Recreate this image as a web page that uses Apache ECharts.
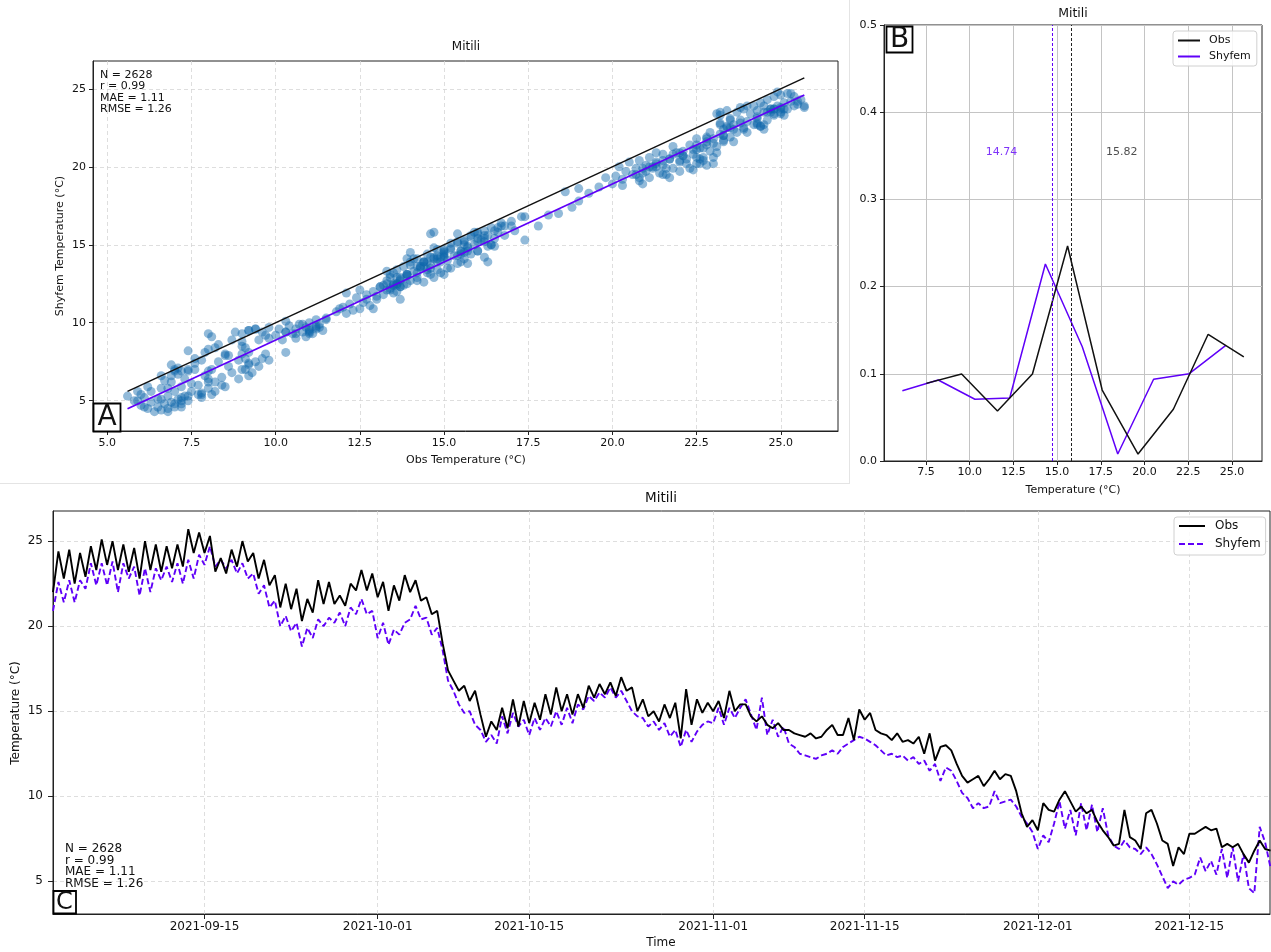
<!DOCTYPE html>
<html><head><meta charset="utf-8">
<script src="https://cdn.jsdelivr.net/npm/echarts@6/dist/echarts.min.js"></script>
<style>html,body{margin:0;padding:0;background:#fff}#c{width:1271px;height:952px}</style>
</head><body><div id="c"></div>
<script>
// ---------- DATA ----------
// Time series (panel C): 12-hourly samples starting 2021-09-01 00:00
const seriesStart = [2021, 9, 1];
const sampleStepHours = 12;
const obsTemp = [
22.0,24.4, 22.8,24.5, 22.5,24.3, 22.9,24.7, 23.3,25.1, 23.6,25.0, 23.3,24.8, 23.2,24.6, 22.8,25.0, 23.3,24.8,
23.2,24.7, 23.4,24.8, 23.5,25.7, 24.3,25.5, 24.3,25.3, 23.2,24.0, 23.1,24.5, 23.5,25.0, 23.8,24.3, 22.8,23.9,
22.4,23.0, 21.1,22.5, 21.0,22.2, 20.3,21.6, 20.8,22.7, 21.3,22.6, 21.3,21.8, 21.2,22.5, 22.1,23.3, 22.1,23.1,
21.7,22.6, 20.9,22.4, 21.5,23.0, 22.0,22.7, 21.5,21.7, 20.7,20.9, 19.0,17.4, 16.8,16.2, 16.5,15.6, 16.2,14.8,
13.5,14.4, 13.9,15.2, 14.0,15.7, 14.1,15.6, 14.3,15.5, 14.5,16.0, 14.8,16.4, 15.0,16.0, 14.8,16.0, 15.2,16.5,
15.8,16.6, 16.0,16.7, 15.9,17.0, 16.2,16.4, 15.0,15.7, 14.7,15.0, 14.4,15.4, 14.6,15.5, 13.4,16.3, 14.2,15.7,
14.9,15.5, 15.0,15.6, 14.6,16.2, 15.0,15.4, 15.4,14.7, 14.4,14.7, 14.2,14.0, 14.3,13.9, 13.9,13.7, 13.6,13.5,
13.7,13.4, 13.5,13.9, 14.2,13.6, 13.6,14.6, 13.3,15.1, 14.5,14.9, 13.9,13.7, 13.6,13.3, 13.7,13.2, 13.3,13.1,
13.5,12.5, 13.7,12.1, 12.9,13.0, 12.7,11.9, 11.2,10.8, 11.0,11.2, 10.6,11.0, 11.5,11.0, 11.3,11.2, 10.3,9.0,
8.2,8.6, 8.0,9.6, 9.2,9.1, 9.8,10.3, 9.7,9.1, 9.4,9.0, 9.2,8.5, 8.0,7.6, 7.1,7.2, 9.2,7.6,
7.4,6.9, 9.0,9.2, 8.4,7.4, 7.2,5.9, 7.0,6.6, 7.8,7.8, 8.0,8.2, 8.0,8.1, 7.0,7.2, 7.0,7.2,
6.6,6.1, 6.8,7.4, 6.9,6.8
];
const shyTemp = [
20.9,22.6, 21.4,22.7, 21.4,22.7, 22.2,23.7, 22.4,23.7, 22.4,23.8, 22.0,23.7, 22.8,23.5, 21.8,23.4, 22.0,23.4,
22.7,23.5, 22.6,23.7, 22.5,23.9, 22.8,24.2, 23.6,24.7, 23.5,23.9, 23.4,23.9, 23.1,23.7, 22.8,23.1, 21.9,22.4,
21.1,21.5, 20.0,20.6, 19.7,20.2, 18.8,19.9, 19.3,20.4, 20.0,20.5, 20.2,20.8, 20.0,21.1, 20.7,21.6, 20.7,20.9,
19.3,20.2, 18.9,19.8, 19.5,20.2, 20.4,21.2, 20.4,20.5, 19.5,19.9, 18.6,16.8, 16.2,15.4, 14.9,15.0, 14.2,13.9,
13.2,13.6, 13.1,14.7, 13.7,14.9, 14.1,14.5, 13.6,14.6, 13.9,14.6, 14.1,15.0, 14.2,15.2, 14.3,15.4, 15.1,15.9,
15.6,16.1, 15.8,16.4, 15.8,16.2, 15.6,15.0, 14.7,14.6, 14.1,14.4, 13.9,14.3, 13.5,13.9, 12.9,13.9, 13.2,13.8,
14.2,14.4, 14.3,15.2, 14.2,15.2, 14.6,15.2, 15.7,14.8, 13.9,15.8, 13.6,14.5, 13.5,14.1, 13.1,12.9, 12.5,12.4,
12.3,12.2, 12.4,12.5, 12.7,12.5, 12.9,13.1, 13.3,13.5, 13.4,13.2, 13.0,12.7, 12.4,12.5, 12.3,12.4, 12.1,12.3,
11.9,12.1, 11.5,11.9, 10.9,11.7, 11.5,10.9, 10.2,9.9, 9.3,9.6, 9.3,9.4, 10.3,9.6, 9.7,9.8, 9.4,8.8,
8.4,7.9, 6.9,7.7, 7.3,8.4, 9.7,8.1, 9.2,7.7, 9.6,8.0, 9.5,7.9, 9.3,7.7, 7.1,6.9, 7.4,7.0,
6.9,6.6, 7.0,6.6, 6.0,5.3, 4.6,5.0, 4.8,5.1, 5.2,5.4, 6.4,5.6, 6.2,5.4, 6.9,5.2, 7.0,5.0,
6.6,4.6, 4.3,8.2, 7.3,5.8
];
const extraScatterObs = [
5.6,5.8,5.9,6.0,6.1,6.2,6.3,6.3,6.4,6.5,6.5,6.6,6.6,6.7,6.8,6.8,6.9,6.9,7.0,7.0,7.1,7.1,7.2,7.2,7.3,7.3,7.4,7.4,7.5,7.5,6.2,6.0,6.7,7.6,7.7,
7.7,7.8,7.8,7.9,8.0,8.0,8.1,8.2,8.3,8.3,8.4,8.5,8.5,8.6,8.7,8.7,8.8,8.9,8.9,9.0,9.0,9.1,9.2,9.2,9.3,9.4,9.5,9.5,9.6,9.7,9.8,9.8,8.1,7.9,9.4,
10.0,10.1,10.2,10.3,10.4,10.5,10.6,10.6,10.7,10.8,10.9,10.9,11.0,11.0,11.1,11.2,11.3,11.4,11.5,10.3,
11.8,12.0,12.1,12.2,12.4,12.5,12.6,12.7,12.8,12.9,13.0,12.3,
13.1,13.2,13.3,13.4,13.4,13.5,13.6,13.6,13.7,13.8,13.8,13.9,14.0,14.0,14.1,14.2,14.2,14.3,14.4,14.4,14.5,14.5,14.6,14.7,14.7,14.8,14.8,14.9,15.0,15.0,15.1,15.2,15.2,15.3,15.4,15.4,15.5,15.6,15.6,15.7,15.8,15.8,15.9,16.0,16.0,16.1,16.2,16.3,16.3,16.4,16.5,16.6,16.7,16.8,14.6,
17.0,17.1,17.3,17.4,17.8,18.1,18.4,18.6,18.8,19.0,19.3,19.6,19.8,20.0,
20.1,20.2,20.3,20.4,20.5,20.6,20.7,20.8,20.9,21.0,21.1,21.1,21.2,21.3,21.4,21.5,21.5,21.6,21.7,21.8,21.9,22.0,22.0,22.1,22.2,22.3,22.3,22.4,22.5,22.6,22.7,22.8,22.8,22.9,23.0,23.0,21.8,22.5,20.8,21.3,
23.1,23.2,23.2,23.3,23.4,23.5,23.5,23.6,23.7,23.7,23.8,23.9,23.9,24.0,24.0,24.1,24.2,24.2,24.3,24.4,24.4,24.5,24.6,24.6,24.7,24.8,24.8,24.9,25.0,25.0,25.1,25.2,25.2,25.3,25.4,25.4,25.5,25.6,25.7,23.8,24.5,23.4,25.1,24.9,23.6
];
const extraScatterShy = [
5.3,5.0,5.6,4.7,5.2,4.5,4.9,5.6,4.3,4.6,5.1,4.4,5.8,4.8,4.5,5.3,4.9,6.2,4.6,5.6,5.1,6.7,4.8,5.9,5.3,6.4,5.0,7.0,5.6,6.1,5.9,5.4,6.3,7.4,5.4,
6.0,7.6,5.5,6.6,8.3,5.8,7.0,6.2,8.6,7.5,6.5,8.0,5.9,7.2,8.9,6.8,9.4,7.6,6.4,8.5,9.3,7.0,8.1,9.5,6.8,7.5,8.9,7.2,9.4,8.0,7.6,9.0,9.1,8.1,9.6,
9.2,9.6,8.9,9.4,9.8,9.3,9.6,9.0,9.9,9.4,9.7,9.1,9.5,10.0,9.3,9.7,9.9,9.5,10.2,10.1,
10.7,11.0,10.6,11.2,11.6,10.9,11.3,11.8,11.1,12.0,11.5,10.8,
12.3,11.8,12.7,12.1,13.1,12.5,13.4,12.0,12.8,13.6,12.4,13.1,12.7,13.9,13.3,12.9,14.1,13.6,12.6,13.9,13.2,14.4,13.7,12.9,14.2,13.4,14.7,13.9,13.1,14.5,14.0,14.8,13.5,14.3,15.1,13.8,14.6,15.3,14.1,14.8,15.5,14.4,15.0,15.7,14.6,15.3,15.9,14.9,15.6,16.1,15.4,15.8,16.2,15.6,15.7,
16.5,15.9,16.8,15.3,16.2,16.9,17.0,18.4,17.4,17.8,18.3,18.7,19.3,18.9,
19.4,20.0,19.2,19.7,20.3,19.5,19.9,20.4,19.6,20.1,19.3,20.6,19.9,20.3,19.6,20.8,20.1,19.5,20.5,19.9,20.9,20.3,19.7,21.0,20.5,19.9,21.4,20.8,20.2,21.2,20.6,21.6,20.1,21.0,21.8,20.6,21.3,21.8,19.1,20.9,
21.3,22.1,23.3,21.7,22.5,23.0,21.9,22.7,23.5,22.2,23.0,22.5,23.7,22.9,22.2,23.4,22.7,23.9,23.2,22.6,24.1,23.5,23.0,24.3,23.7,23.3,24.5,23.9,23.5,24.6,24.1,23.7,24.7,24.2,23.9,24.5,24.0,24.3,23.8,23.8,22.4,23.6,23.3,24.8,21.6
];
// Panel A lines
const identityX = [5.6, 25.7];
const fitX = [5.6, 25.7];
const fitY = [4.49, 24.6];
const statLines = ['N = 2628', 'r = 0.99', 'MAE = 1.11', 'RMSE = 1.26'];
// Panel B distributions
const obsBinX = [7.52, 9.54, 11.59, 13.59, 15.60, 17.58, 19.63, 21.65, 23.64, 25.68];
const obsFreq = [0.089, 0.0998, 0.0573, 0.0998, 0.2466, 0.0814, 0.008, 0.0593, 0.1453, 0.1193];
const shyBinX = [6.15, 8.20, 10.30, 12.29, 14.33, 16.44, 18.47, 20.52, 22.56, 24.65];
const shyFreq = [0.0806, 0.0929, 0.0708, 0.0722, 0.2259, 0.1311, 0.008, 0.0937, 0.1001, 0.1327];
const obsMean = 15.82;
const shyMean = 14.74;
// Tick labels
const aXTicks = [5, 7.5, 10, 12.5, 15, 17.5, 20, 22.5, 25];
const aYTicks = [5, 10, 15, 20, 25];
const bXTicks = [7.5, 10, 12.5, 15, 17.5, 20, 22.5, 25];
const cXTicks = ['2021-09-15', '2021-10-01', '2021-10-15', '2021-11-01', '2021-11-15', '2021-12-01', '2021-12-15'];
const cYTicks = [5, 10, 15, 20, 25];

// ---------- BUILD ----------
const FONT = 'DejaVu Sans';
const PURPLE = '#5f00f8';
const TXT = '#111';
const DAY = 86400000;
const t0 = Date.UTC(seriesStart[0], seriesStart[1] - 1, seriesStart[2]);
const dayOf = i => i * sampleStepHours / 24;
const obsSeries = obsTemp.map((v, i) => [dayOf(i), v]);
const shySeries = shyTemp.map((v, i) => [dayOf(i), v]);
const scatterPts = obsTemp.map((v, i) => [v, shyTemp[i]])
  .concat(extraScatterObs.map((v, i) => [v, extraScatterShy[i]]));
const parseDay = s => { const p = s.split('-').map(Number); return (Date.UTC(p[0], p[1] - 1, p[2]) - t0) / DAY; };
const cXTickVals = cXTicks.map(parseDay);
const pad2 = n => (n < 10 ? '0' : '') + n;
const dayLabel = v => { const d = new Date(t0 + Math.round(v) * DAY); return d.getUTCFullYear() + '-' + pad2(d.getUTCMonth() + 1) + '-' + pad2(d.getUTCDate()); };

const dashedGrid = { show: true, lineStyle: { color: '#d6d6d6', width: 0.8, type: [4, 3] } };
const solidGrid = { show: true, lineStyle: { color: '#c4c4c4', width: 1 } };
function valAxis(gi, min, max, ticks, fmt, fs, margin, grid, tickLen) {
  return {
    type: 'value', gridIndex: gi, min: min, max: max,
    axisLine: { show: true, lineStyle: { color: '#222', width: 1 } },
    axisTick: { show: true, length: tickLen, lineStyle: { color: '#222' }, customValues: ticks },
    axisLabel: { customValues: ticks, formatter: fmt, fontSize: fs, fontFamily: FONT, color: TXT, margin: margin, hideOverlap: false },
    splitLine: grid
  };
}
const fmt1 = v => Number(v).toFixed(1);
const fmt0 = v => String(Math.round(v));
const legendBase = {
  orient: 'vertical', selectedMode: false,
  borderColor: '#d0d0d0', borderWidth: 1, borderRadius: 3, backgroundColor: 'rgba(255,255,255,0.85)',
  itemStyle: { opacity: 0, borderWidth: 0 }
};
const T = (x, y, text, size, extra) => Object.assign({ type: 'text', x: x, y: y,
  style: { text: text, font: size + 'px "DejaVu Sans"', fill: TXT, align: 'center', verticalAlign: 'middle', textAlign: 'center', textVerticalAlign: 'middle' } }, extra || {});

const option = {
  animation: false,
  backgroundColor: '#fff',
  textStyle: { fontFamily: FONT },
  grid: [
    { left: 93, top: 61, width: 745, height: 370, show: true, borderColor: '#222', borderWidth: 1 },
    { left: 884, top: 25, width: 378, height: 436, show: true, borderColor: '#222', borderWidth: 1 },
    { left: 53, top: 511, width: 1217, height: 403, show: true, borderColor: '#222', borderWidth: 1 }
  ],
  xAxis: [
    valAxis(0, 4.575, 26.70, aXTicks, fmt1, 11, 7, dashedGrid, 4),
    valAxis(1, 5.1, 26.72, bXTicks, fmt1, 11, 6, solidGrid, 4),
    valAxis(2, 0, 112.45, cXTickVals, dayLabel, 12, 7, dashedGrid, 5)
  ],
  yAxis: [
    valAxis(0, 3.06, 26.78, aYTicks, fmt0, 11, 7, dashedGrid, 4),
    { type: 'value', gridIndex: 1, min: 0, max: 0.5, interval: 0.1,
      axisLine: { show: true, lineStyle: { color: '#222' } },
      axisTick: { show: true, length: 4, lineStyle: { color: '#222' } },
      axisLabel: { formatter: fmt1, fontSize: 11, fontFamily: FONT, color: TXT, margin: 7 },
      splitLine: solidGrid },
    valAxis(2, 3.08, 26.77, cYTicks, fmt0, 12, 10, dashedGrid, 5)
  ],
  legend: [
    Object.assign({}, legendBase, { data: ['Obs', 'Shyfem'], left: 1173, top: 31, padding: [4, 6, 4, 4],
      itemWidth: 22, itemHeight: 12, itemGap: 5,
      textStyle: { fontSize: 11, fontFamily: FONT, color: TXT, padding: [0, 0, 0, 4] } }),
    Object.assign({}, legendBase, { data: ['Obs_C', 'Shyfem_C'], left: 1174, top: 517, padding: [3, 5, 5, 4],
      itemWidth: 26, itemHeight: 13, itemGap: 6,
      formatter: n => n.replace('_C', ''),
      textStyle: { fontSize: 12, fontFamily: FONT, color: TXT, padding: [0, 0, 0, 5] } })
  ],
  series: [
    { type: 'scatter', xAxisIndex: 0, yAxisIndex: 0, data: scatterPts, symbolSize: 9,
      itemStyle: { color: '#0d66ab', opacity: 0.45 }, z: 2, silent: true },
    { type: 'line', name: 'identity', xAxisIndex: 0, yAxisIndex: 0, data: identityX.map(v => [v, v]),
      symbol: 'none', lineStyle: { color: '#111', width: 1.5 }, z: 3, silent: true },
    { type: 'line', name: 'fit', xAxisIndex: 0, yAxisIndex: 0, data: fitX.map((v, i) => [v, fitY[i]]),
      symbol: 'none', lineStyle: { color: PURPLE, width: 1.8 }, z: 3, silent: true },

    { type: 'line', name: 'Obs', xAxisIndex: 1, yAxisIndex: 1, data: obsBinX.map((v, i) => [v, obsFreq[i]]),
      symbol: 'none', lineStyle: { color: '#111', width: 1.5 }, itemStyle: { color: '#111' }, z: 4,
      markLine: { silent: true, symbol: 'none', label: { show: false }, data: [{ xAxis: obsMean }],
        lineStyle: { color: '#222', type: [3, 2], width: 1 } } },
    { type: 'line', name: 'Shyfem', xAxisIndex: 1, yAxisIndex: 1, data: shyBinX.map((v, i) => [v, shyFreq[i]]),
      symbol: 'none', lineStyle: { color: PURPLE, width: 1.5 }, itemStyle: { color: PURPLE }, z: 3,
      markLine: { silent: true, symbol: 'none', label: { show: false }, data: [{ xAxis: shyMean }],
        lineStyle: { color: PURPLE, type: [3, 2], width: 1 } } },
    { type: 'scatter', xAxisIndex: 1, yAxisIndex: 1, symbolSize: 1, silent: true,
      itemStyle: { color: 'rgba(0,0,0,0)' },
      data: [
        { value: [11.82, 0.354], label: { show: true, position: 'inside', formatter: shyMean.toFixed(2), color: PURPLE, fontSize: 11, fontFamily: FONT } },
        { value: [18.70, 0.354], label: { show: true, position: 'inside', formatter: obsMean.toFixed(2), color: '#222', fontSize: 11, fontFamily: FONT } }
      ] },

    { type: 'line', name: 'Obs_C', xAxisIndex: 2, yAxisIndex: 2, data: obsSeries, symbol: 'none',
      lineStyle: { color: '#000', width: 1.9 }, itemStyle: { color: '#000' }, z: 4 },
    { type: 'line', name: 'Shyfem_C', xAxisIndex: 2, yAxisIndex: 2, data: shySeries, symbol: 'none',
      lineStyle: { color: PURPLE, width: 1.9, type: [6, 3] }, itemStyle: { color: PURPLE }, z: 3 }
  ],
  graphic: [
    { type: 'line', shape: { x1: 0, y1: 483.5, x2: 850, y2: 483.5 }, style: { stroke: '#e4e4e4', lineWidth: 1 }, silent: true },
    { type: 'line', shape: { x1: 849.5, y1: 0, x2: 849.5, y2: 483.5 }, style: { stroke: '#e4e4e4', lineWidth: 1 }, silent: true },
    T(466, 47, 'Mitili', 12),
    T(1073, 14, 'Mitili', 12.5),
    T(661, 498, 'Mitili', 13.5),
    T(466, 460, 'Obs Temperature (°C)', 11),
    T(60, 246, 'Shyfem Temperature (°C)', 11, { rotation: Math.PI / 2 }),
    T(1073, 490, 'Temperature (°C)', 11),
    T(661, 943, 'Time', 12),
    T(16, 713, 'Temperature (°C)', 12, { rotation: Math.PI / 2 }),
    { type: 'text', x: 100, y: 69, z: 10, style: { text: statLines.join('\n'), font: '11px "DejaVu Sans"', lineHeight: 11.5, fill: TXT, align: 'left', verticalAlign: 'top', textAlign: 'left', textVerticalAlign: 'top' } },
    { type: 'text', x: 65, y: 843, z: 10, style: { text: statLines.join('\n'), font: '12px "DejaVu Sans"', lineHeight: 11.6, fill: TXT, align: 'left', verticalAlign: 'top', textAlign: 'left', textVerticalAlign: 'top' } },
    { type: 'rect', z: 20, shape: { x: 93.5, y: 403.5, width: 27, height: 28 }, style: { fill: '#fff', stroke: '#000', lineWidth: 1.8 } },
    T(107, 418, 'A', 28, { z: 21 }),
    { type: 'rect', z: 20, shape: { x: 886.5, y: 26.5, width: 26, height: 26 }, style: { fill: '#fff', stroke: '#000', lineWidth: 1.8 } },
    T(899.5, 40, 'B', 28, { z: 21 }),
    { type: 'rect', z: 20, shape: { x: 53.5, y: 891, width: 22.5, height: 22.5 }, style: { fill: '#fff', stroke: '#000', lineWidth: 1.8 } },
    T(64.5, 902.5, 'C', 24, { z: 21 })
  ]
};
const chart = echarts.init(document.getElementById('c'), null, { renderer: 'canvas', width: 1271, height: 952 });
chart.setOption(option);
</script>
</body></html>
